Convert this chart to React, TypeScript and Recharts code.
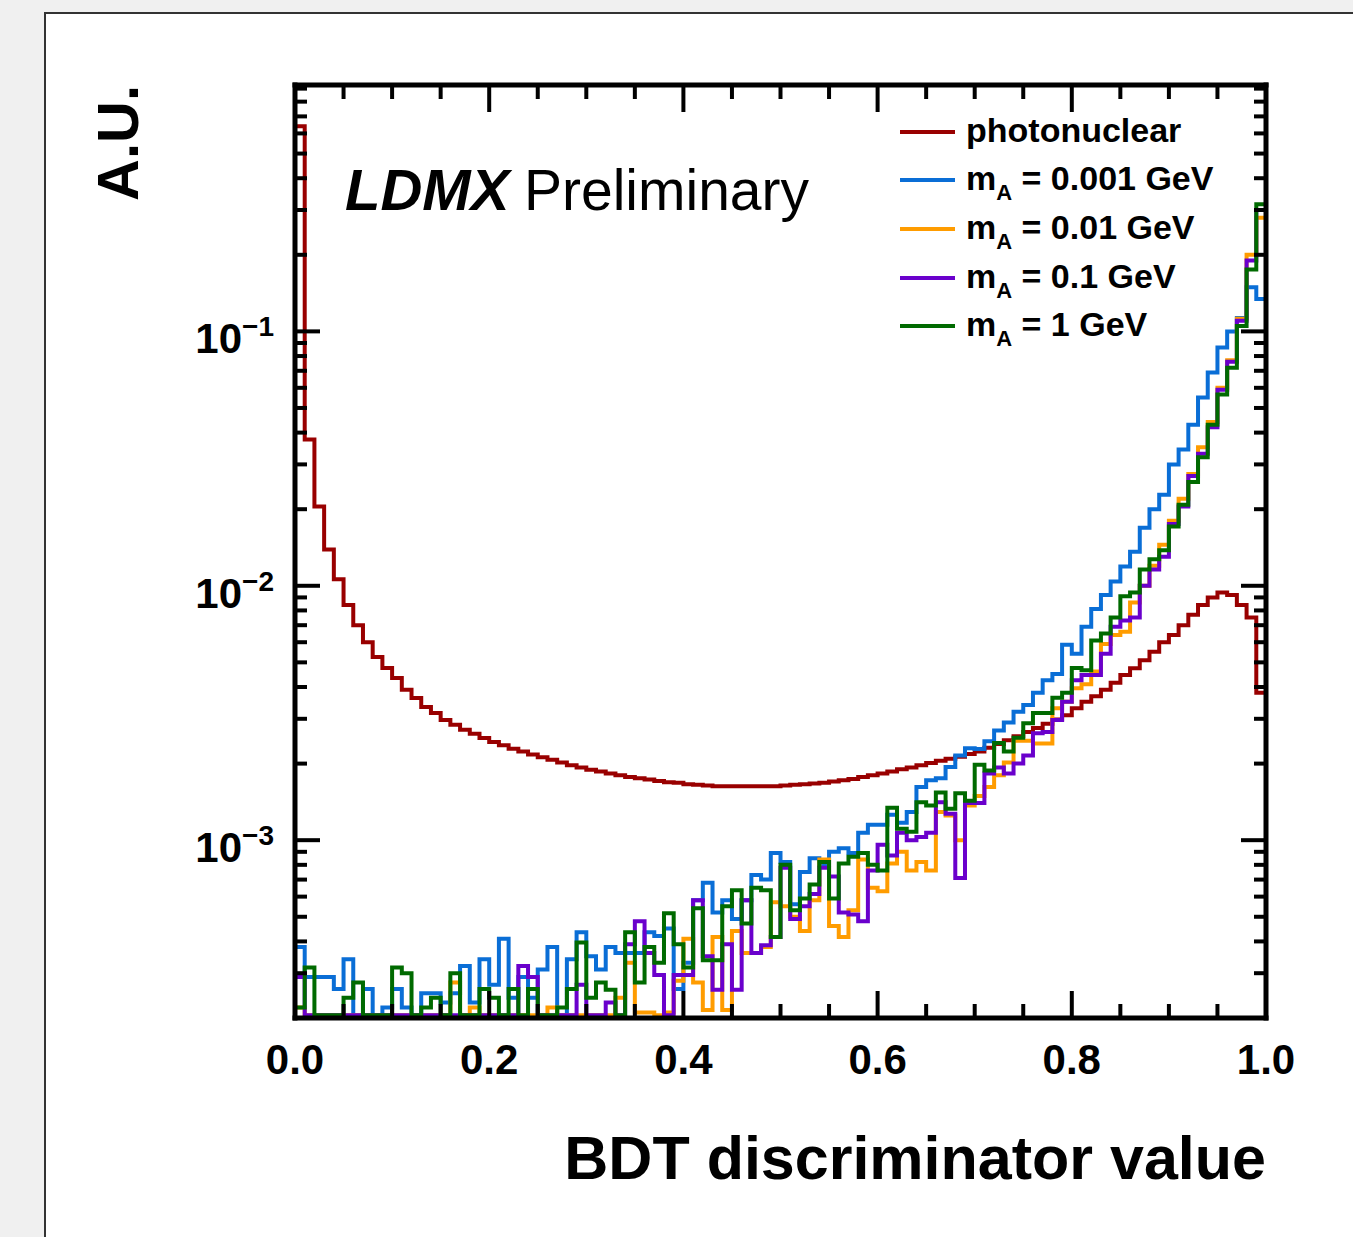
import { LineChart, Line, XAxis, YAxis } from 'recharts';

const W = 1353;
const H = 1237;
const FONT = "'Liberation Sans', Arial, Helvetica, sans-serif";

// empty bins sit on the lower edge of the frame
const E = 2.05e-4;

// 100 bins of the BDT score, low edges
const binLow = Array.from({ length: 100 }, (_, i) => i / 100);

const photonuclear = [
  0.64, 0.0376, 0.0205, 0.0139, 0.0106, 0.0084, 0.007, 0.006, 0.00525, 0.00475,
  0.00434, 0.0039, 0.00362, 0.00334, 0.00316, 0.00297, 0.00284, 0.00272, 0.00262, 0.00252,
  0.00243, 0.00236, 0.00229, 0.00223, 0.00217, 0.00212, 0.00207, 0.00202, 0.00197, 0.00193,
  0.00189, 0.00186, 0.00183, 0.0018, 0.00177, 0.00175, 0.00173, 0.00171, 0.00169, 0.00168,
  0.00166, 0.00165, 0.00164, 0.00163, 0.00163, 0.00163, 0.00163, 0.00163, 0.00163, 0.00163,
  0.00164, 0.00165, 0.00166, 0.00167, 0.00168, 0.0017, 0.00172, 0.00174, 0.00177, 0.0018,
  0.00183, 0.00186, 0.0019, 0.00193, 0.00197, 0.00201, 0.00205, 0.00209, 0.00213, 0.00218,
  0.00223, 0.00231, 0.00239, 0.00247, 0.00256, 0.00266, 0.00276, 0.00287, 0.00298, 0.0031,
  0.0033, 0.0035, 0.00368, 0.0039, 0.00416, 0.00446, 0.00474, 0.0051, 0.0055, 0.006,
  0.0064, 0.007, 0.0077, 0.0084, 0.009, 0.0094, 0.0092, 0.0084, 0.0075, 0.0038,
];

const mA0001 = [
  3.8e-4, 2.9e-4, 2.9e-4, 2.9e-4, 2.6e-4, 3.4e-4, E, 2.6e-4, E, 2.2e-4,
  2.6e-4, 2.2e-4, E, 2.5e-4, 2.5e-4, 2.3e-4, 2.5e-4, 3.2e-4, 2.3e-4, 3.4e-4,
  2.7e-4, 4.1e-4, 2.4e-4, 2.9e-4, 2.4e-4, 3.1e-4, 3.8e-4, E, 3.4e-4, 4.35e-4,
  3.5e-4, 3.1e-4, 3.8e-4, 3.6e-4, 3.6e-4, 3.6e-4, 4.35e-4, 4.2e-4, 4.5e-4, 2.6e-4,
  3.3e-4, 5.8e-4, 6.8e-4, 5.2e-4, 5.8e-4, 4.9e-4, 5.8e-4, 7.3e-4, 7.0e-4, 8.9e-4,
  8.2e-4, 5.6e-4, 7.5e-4, 8.5e-4, 8.0e-4, 9.0e-4, 9.3e-4, 8.9e-4, 1.07e-3, 1.15e-3,
  1.15e-3, 1.26e-3, 1.17e-3, 1.29e-3, 1.62e-3, 1.72e-3, 1.75e-3, 1.94e-3, 2.15e-3, 2.3e-3,
  2.28e-3, 2.45e-3, 2.7e-3, 2.9e-3, 3.2e-3, 3.4e-3, 3.8e-3, 4.25e-3, 4.5e-3, 5.86e-3,
  5.4e-3, 6.9e-3, 8.1e-3, 9.2e-3, 1.04e-2, 1.19e-2, 1.36e-2, 1.69e-2, 2.0e-2, 2.28e-2,
  3.0e-2, 3.43e-2, 4.3e-2, 5.5e-2, 6.9e-2, 8.65e-2, 0.1, 0.113, 0.149, 0.134,
];

const mA001 = [
  2.2e-4, E, E, E, E, E, E, E, E, E,
  E, E, E, E, E, E, 2.76e-4, E, 2.2e-4, E,
  E, E, E, E, E, E, 2.2e-4, E, E, E,
  E, E, E, 2.4e-4, 3.3e-4, 2.1e-4, 2.1e-4, E, 2.1e-4, 2.8e-4,
  4.1e-4, 2.76e-4, 2.15e-4, 4.16e-4, 2.15e-4, 4.4e-4, 3.6e-4, 3.6e-4, 3.8e-4, 5.7e-4,
  5.5e-4, 5.0e-4, 4.4e-4, 5.8e-4, 8.4e-4, 4.6e-4, 4.16e-4, 5.3e-4, 8.4e-4, 6.5e-4,
  6.3e-4, 8.1e-4, 9.0e-4, 7.6e-4, 8.2e-4, 7.6e-4, 1.29e-3, 1.25e-3, 1.0e-3, 1.37e-3,
  1.49e-3, 1.62e-3, 1.8e-3, 2.02e-3, 2.46e-3, 2.46e-3, 2.4e-3, 2.4e-3, 3.3e-3, 3.5e-3,
  3.96e-3, 4.1e-3, 4.6e-3, 5.9e-3, 6.4e-3, 6.6e-3, 8.6e-3, 1.0e-2, 1.2e-2, 1.45e-2,
  1.8e-2, 2.2e-2, 2.75e-2, 3.5e-2, 4.4e-2, 6.0e-2, 7.7e-2, 0.112, 0.2, 0.28,
];

const mA01 = [
  2.9e-4, E, E, E, E, E, E, E, E, E,
  E, E, E, E, E, E, E, E, E, E,
  E, E, E, 3.2e-4, 2.9e-4, E, E, E, E, 2.7e-4,
  E, E, 2.3e-4, E, 3.9e-4, 4.8e-4, 3.6e-4, 2.95e-4, E, 2.95e-4,
  2.95e-4, 5.8e-4, 3.5e-4, 2.58e-4, 3.9e-4, 2.58e-4, 5.8e-4, 3.6e-4, 3.86e-4, 4.16e-4,
  7.8e-4, 4.9e-4, 5.5e-4, 6.15e-4, 7.8e-4, 7.2e-4, 5.2e-4, 5.1e-4, 4.8e-4, 7.6e-4,
  9.6e-4, 8.7e-4, 1.07e-3, 1.0e-3, 1.03e-3, 1.07e-3, 1.41e-3, 1.27e-3, 7.1e-4, 1.4e-3,
  1.4e-3, 1.83e-3, 1.93e-3, 1.83e-3, 2.0e-3, 2.15e-3, 2.63e-3, 2.66e-3, 2.97e-3, 3.5e-3,
  4.25e-3, 4.46e-3, 4.46e-3, 5.4e-3, 6.9e-3, 7.3e-3, 7.5e-3, 1.0e-2, 1.16e-2, 1.3e-2,
  1.75e-2, 2.05e-2, 2.7e-2, 3.3e-2, 4.2e-2, 5.9e-2, 7.6e-2, 0.11, 0.19, 0.3,
];

const mA1 = [
  2.2e-4, 3.16e-4, E, E, E, 2.4e-4, 2.76e-4, E, E, E,
  3.16e-4, 3.0e-4, E, 2.2e-4, 2.4e-4, E, 3.0e-4, E, E, 2.6e-4,
  2.4e-4, E, 2.6e-4, E, 2.6e-4, E, E, 2.2e-4, 2.6e-4, 3.96e-4,
  2.4e-4, 2.76e-4, 2.58e-4, E, 4.35e-4, 2.76e-4, 3.8e-4, 3.3e-4, 5.16e-4, 3.9e-4,
  3.16e-4, 5.4e-4, 3.37e-4, 3.37e-4, 5.5e-4, 6.35e-4, 4.7e-4, 6.5e-4, 6.35e-4, 4.16e-4,
  8.0e-4, 5.3e-4, 5.9e-4, 6.7e-4, 8.2e-4, 5.9e-4, 8.1e-4, 8.6e-4, 8.9e-4, 8.0e-4,
  7.6e-4, 1.34e-3, 1.11e-3, 1.08e-3, 1.41e-3, 1.37e-3, 1.54e-3, 1.33e-3, 1.53e-3, 1.43e-3,
  1.98e-3, 1.88e-3, 2.41e-3, 2.23e-3, 2.53e-3, 2.88e-3, 3.16e-3, 3.16e-3, 3.63e-3, 3.8e-3,
  4.75e-3, 4.66e-3, 6.1e-3, 6.5e-3, 7.5e-3, 9.1e-3, 9.4e-3, 1.16e-2, 1.27e-2, 1.38e-2,
  1.71e-2, 2.08e-2, 2.56e-2, 3.2e-2, 4.3e-2, 5.65e-2, 7.2e-2, 0.105, 0.175, 0.316,
];

const xTicks = [
  0, 0.05, 0.1, 0.15, 0.2, 0.25, 0.3, 0.35, 0.4, 0.45, 0.5,
  0.55, 0.6, 0.65, 0.7, 0.75, 0.8, 0.85, 0.9, 0.95, 1,
];
const yTicks = [
  3e-4, 4e-4, 5e-4, 6e-4, 7e-4, 8e-4, 9e-4,
  1e-3, 2e-3, 3e-3, 4e-3, 5e-3, 6e-3, 7e-3, 8e-3, 9e-3,
  1e-2, 2e-2, 3e-2, 4e-2, 5e-2, 6e-2, 7e-2, 8e-2, 9e-2,
  1e-1, 0.2, 0.3, 0.4, 0.5, 0.6, 0.7, 0.8, 0.9,
];
const yDomain = [2e-4, 0.93];

const series = [
  { key: 'pn', label: 'photonuclear', mass: '', color: '#990000', values: photonuclear },
  { key: 'm0001', label: '', mass: '0.001', color: '#0a6ed6', values: mA0001 },
  { key: 'm001', label: '', mass: '0.01', color: '#ff9c00', values: mA001 },
  { key: 'm01', label: '', mass: '0.1', color: '#6a00cc', values: mA01 },
  { key: 'm1', label: '', mass: '1', color: '#006a00', values: mA1 },
];

// step histogram: start and end on the floor, repeat last bin at x = 1
const rowAt = (x: number, pick: (vals: number[]) => number) => {
  const r: any = { x };
  series.forEach((s) => (r[s.key] = pick(s.values)));
  return r;
};
const rows = [
  rowAt(0, () => E),
  ...binLow.map((x, i) => rowAt(x, (v) => v[i])),
  rowAt(1, (v) => v[v.length - 1]),
  rowAt(1, () => E),
];

const frame = { stroke: '#000', strokeWidth: 5, strokeLinecap: 'square' as const };
const isMajorX = (v: number) => Math.abs(v * 5 - Math.round(v * 5)) < 1e-6;
const isMajorY = (v: number) => Math.abs(Math.log10(v) - Math.round(Math.log10(v))) < 1e-6;

const BottomTick = (p: any) => {
  const v = p.payload.value;
  const major = isMajorX(v);
  return (
    <g>
      <line x1={p.x} x2={p.x} y1={p.y} y2={p.y - (major ? 27 : 14)} stroke="#000" strokeWidth={4} />
      {major && (
        <text x={p.x} y={p.y + 56} textAnchor="middle" fontSize={42} fontWeight="bold" fontFamily={FONT} fill="#000">
          {v.toFixed(1)}
        </text>
      )}
    </g>
  );
};

const TopTick = (p: any) => {
  const major = isMajorX(p.payload.value);
  return <line x1={p.x} x2={p.x} y1={p.y} y2={p.y + (major ? 27 : 14)} stroke="#000" strokeWidth={4} />;
};

const LeftTick = (p: any) => {
  const v = p.payload.value;
  const major = isMajorY(v);
  return (
    <g>
      <line x1={p.x} x2={p.x + (major ? 25 : 12)} y1={p.y} y2={p.y} stroke="#000" strokeWidth={4} />
      {major && (
        <text x={p.x - 21} y={p.y + 22} textAnchor="end" fontSize={42} fontWeight="bold" fontFamily={FONT} fill="#000">
          10
          <tspan fontSize={28} dy={-17}>
            {'\u2212' + Math.abs(Math.round(Math.log10(v)))}
          </tspan>
        </text>
      )}
    </g>
  );
};

const RightTick = (p: any) => {
  const major = isMajorY(p.payload.value);
  return <line x1={p.x} x2={p.x - (major ? 25 : 12)} y1={p.y} y2={p.y} stroke="#000" strokeWidth={4} />;
};

const legendY = [132, 180, 229, 278, 326];

export default function App() {
  return (
    <div style={{ position: 'absolute', left: 0, top: 0, width: W, height: H, background: '#f0f0f0', overflow: 'hidden' }}>
      <div
        style={{
          position: 'absolute', left: 44, top: 12, width: 1400, height: 1300,
          background: '#fff', border: '2px solid #333', boxSizing: 'border-box',
        }}
      />
      <div style={{ position: 'absolute', left: 0, top: 0 }}>
        <LineChart width={W} height={H} data={rows} margin={{ top: 75, right: 77, bottom: 159, left: 195 }}>
          {series.map((s) => (
            <Line
              key={s.key}
              xAxisId="b"
              yAxisId="l"
              dataKey={s.key}
              type="stepAfter"
              stroke={s.color}
              strokeWidth={4}
              strokeLinejoin="miter"
              dot={false}
              activeDot={false}
              isAnimationActive={false}
            />
          ))}
          <XAxis
            xAxisId="b" type="number" dataKey="x" domain={[0, 1]} allowDataOverflow
            ticks={xTicks} interval={0} height={60} tickSize={0} tickMargin={0}
            tickLine={false} axisLine={frame} tick={(p: any) => <BottomTick {...p} />}
          />
          <XAxis
            xAxisId="t" orientation="top" type="number" dataKey="x" domain={[0, 1]} allowDataOverflow
            ticks={xTicks} interval={0} height={10} tickSize={0} tickMargin={0}
            tickLine={false} axisLine={frame} tick={(p: any) => <TopTick {...p} />}
          />
          <YAxis
            yAxisId="l" type="number" scale="log" domain={yDomain} allowDataOverflow
            ticks={yTicks} interval={0} width={100} tickSize={0} tickMargin={0}
            tickLine={false} axisLine={frame} tick={(p: any) => <LeftTick {...p} />}
          />
          <YAxis
            yAxisId="r" orientation="right" type="number" scale="log" domain={yDomain} allowDataOverflow
            ticks={yTicks} interval={0} width={10} tickSize={0} tickMargin={0}
            tickLine={false} axisLine={frame} tick={(p: any) => <RightTick {...p} />}
          />
        </LineChart>
      </div>
      <svg width={W} height={H} style={{ position: 'absolute', left: 0, top: 0, pointerEvents: 'none' }} fontFamily={FONT}>
        <text x={138} y={85} transform="rotate(-90 138 85)" textAnchor="end" fontSize={58} fontWeight="bold" fill="#000">
          A.U.
        </text>
        <text x={1266} y={1179} textAnchor="end" fontSize={61} fontWeight="bold" fill="#000">
          BDT discriminator value
        </text>
        <text x={345} y={210} fontSize={58} fontWeight="bold" fontStyle="italic" fill="#000">
          LDMX
        </text>
        <text x={524} y={210} fontSize={57} fill="#000">
          Preliminary
        </text>
        {series.map((s, i) => (
          <g key={s.key}>
            <line x1={900} x2={955} y1={legendY[i]} y2={legendY[i]} stroke={s.color} strokeWidth={4} />
            <text x={966} y={legendY[i] + 10} fontSize={34} fontWeight="bold" fill="#000">
              {s.label ? (
                s.label
              ) : (
                <>
                  m
                  <tspan fontSize={22} dy={10}>A</tspan>
                  <tspan dy={-10}>{` = ${s.mass} GeV`}</tspan>
                </>
              )}
            </text>
          </g>
        ))}
      </svg>
    </div>
  );
}
